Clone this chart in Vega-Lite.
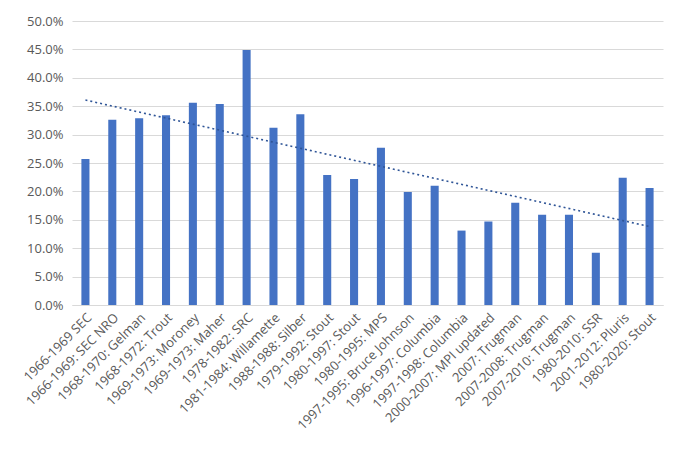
{
  "$schema": "https://vega.github.io/schema/vega-lite/v6.json",
  "autosize": "none",
  "width": 591,
  "height": 284,
  "padding": {"left": 72, "top": 21, "right": 16, "bottom": 146},
  "background": "white",
  "config": {
    "view": {"stroke": null},
    "font": "Open Sans",
    "axis": {"labelFont": "Open Sans", "labelColor": "#595959", "labelFontSize": 13}
  },
  "data": {
    "values": [
      {"n": 1, "study": "1966-1969 SEC", "value": 0.257},
      {"n": 2, "study": "1966-1969: SEC NRO", "value": 0.326},
      {"n": 3, "study": "1968-1970: Gelman", "value": 0.329},
      {"n": 4, "study": "1968-1972: Trout", "value": 0.334},
      {"n": 5, "study": "1969-1973: Moroney", "value": 0.356},
      {"n": 6, "study": "1969-1973: Maher", "value": 0.354},
      {"n": 7, "study": "1978-1982: SRC", "value": 0.449},
      {"n": 8, "study": "1981-1984: Willamette", "value": 0.312},
      {"n": 9, "study": "1988-1988: Silber", "value": 0.336},
      {"n": 10, "study": "1979-1992: Stout", "value": 0.229},
      {"n": 11, "study": "1980-1997: Stout", "value": 0.222},
      {"n": 12, "study": "1980-1995: MPS", "value": 0.277},
      {"n": 13, "study": "1997-1995: Bruce Johnson", "value": 0.199},
      {"n": 14, "study": "1996-1997: Columbia", "value": 0.210},
      {"n": 15, "study": "1997-1998: Columbia", "value": 0.131},
      {"n": 16, "study": "2000-2007: MPI updated", "value": 0.147},
      {"n": 17, "study": "2007: Trugman", "value": 0.180},
      {"n": 18, "study": "2007-2008: Trugman", "value": 0.159},
      {"n": 19, "study": "2007-2010: Trugman", "value": 0.159},
      {"n": 20, "study": "1980-2010: SSR", "value": 0.092},
      {"n": 21, "study": "2001-2012: Pluris", "value": 0.224},
      {"n": 22, "study": "1980-2020: Stout", "value": 0.206}
    ]
  },
  "encoding": {
    "y": {
      "field": "value",
      "type": "quantitative",
      "title": null,
      "scale": {"domain": [0, 0.5], "nice": false},
      "axis": {
        "format": ".1%",
        "values": [0, 0.05, 0.1, 0.15, 0.2, 0.25, 0.3, 0.35, 0.4, 0.45, 0.5],
        "labelOverlap": false,
        "domain": false,
        "ticks": false,
        "labelPadding": 9,
        "gridColor": "#d9d9d9"
      }
    }
  },
  "layer": [
    {
      "mark": {"type": "bar", "color": "#4472C4"},
      "encoding": {
        "x": {
          "field": "study",
          "type": "nominal",
          "sort": null,
          "title": null,
          "scale": {"paddingInner": 0.7, "paddingOuter": 0.35},
          "axis": {
            "labelAngle": -45,
            "labelPadding": 6,
            "ticks": false,
            "domainColor": "#d9d9d9",
            "domainWidth": 1
          }
        }
      }
    },
    {
      "transform": [{"regression": "value", "on": "n", "method": "linear"}],
      "mark": {"type": "line", "color": "#2F5597", "strokeDash": [2, 3], "strokeWidth": 1.6},
      "encoding": {
        "x": {"field": "n", "type": "quantitative", "scale": {"domain": [0.5, 22.5], "nice": false}, "axis": null}
      }
    }
  ],
  "resolve": {"scale": {"x": "independent"}}
}
